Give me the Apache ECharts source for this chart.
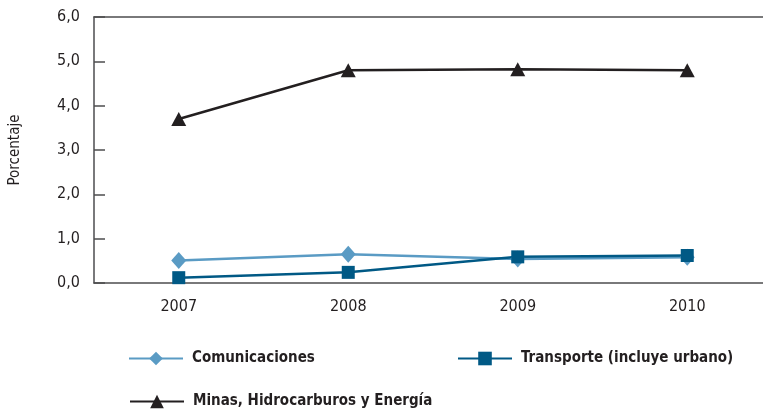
<!DOCTYPE html>
<html>
<head>
<meta charset="utf-8">
<script src="https://cdn.jsdelivr.net/npm/echarts@6/dist/echarts.min.js"></script>
<style>
  html, body { margin: 0; padding: 0; background: #fff; }
  #main { width: 763px; height: 410px; }
</style>
</head>
<body>
<div id="main"></div>
<script>
var years = ['2007', '2008', '2009', '2010']
var comunicaciones = [0.51, 0.65, 0.54, 0.58]
var transporte = [0.12, 0.24, 0.59, 0.62]
var minas = [3.70, 4.80, 4.82, 4.80]

var FONT = '"Liberation Sans Narrow", "DejaVu Sans Condensed", "Roboto", sans-serif'
var TXT = '#231f20'

var myChart = echarts.init(document.getElementById('main'))

function legendAt(name, left, top) {
  return {
    data: [name],
    left: left,
    top: top,
    itemWidth: 54,
    itemHeight: 17,
    itemGap: 0,
    padding: 0,
    textStyle: { fontFamily: FONT, fontSize: 15, fontWeight: 'bold', color: TXT, padding: [0, 0, 0, 4] }
  }
}

var option = {
  animation: false,
  legend: [
    legendAt('Comunicaciones', 128, 351),
    legendAt('Transporte (incluye urbano)', 457, 351),
    legendAt('Minas, Hidrocarburos y Energía', 129, 394)
  ],
  grid: { left: 94, top: 17, right: -9, bottom: 127, outerBoundsMode: 'none', containLabel: false },
  xAxis: [
    {
      type: 'category',
      data: years,
      boundaryGap: true,
      axisLine: { lineStyle: { color: '#4d4d4f', width: 1.5 } },
      axisTick: { inside: true, length: 12, lineStyle: { color: '#4d4d4f', width: 1.5 } },
      axisLabel: { fontFamily: FONT, fontSize: 16, color: TXT, margin: 16 }
    },
    {
      type: 'category',
      data: years,
      position: 'top',
      axisLine: { lineStyle: { color: '#4d4d4f', width: 1.5 } },
      axisTick: { show: false },
      axisLabel: { show: false }
    }
  ],
  yAxis: {
    type: 'value',
    min: 0,
    max: 6,
    interval: 1,
    name: 'Porcentaje',
    nameLocation: 'middle',
    nameGap: 71,
    nameTextStyle: { fontFamily: FONT, fontSize: 15, color: TXT },
    axisLine: { show: true, lineStyle: { color: '#4d4d4f', width: 1.5 } },
    axisTick: { show: true, inside: true, length: 11, lineStyle: { color: '#4d4d4f', width: 1.5 } },
    splitLine: { show: false },
    axisLabel: {
      fontFamily: FONT,
      fontSize: 16,
      color: TXT,
      margin: 14,
      formatter: function (v) { return v.toFixed(1).replace('.', ',') }
    }
  },
  series: [
    {
      name: 'Comunicaciones',
      type: 'line',
      data: comunicaciones,
      symbol: 'diamond',
      symbolSize: [15, 17],
      itemStyle: { color: '#5a9bc4' },
      lineStyle: { color: '#5a9bc4', width: 2.5 }
    },
    {
      name: 'Transporte (incluye urbano)',
      type: 'line',
      data: transporte,
      symbol: 'rect',
      symbolSize: 13,
      itemStyle: { color: '#005985' },
      lineStyle: { color: '#005985', width: 2.5 }
    },
    {
      name: 'Minas, Hidrocarburos y Energía',
      type: 'line',
      data: minas,
      symbol: 'triangle',
      symbolSize: [15, 14],
      itemStyle: { color: '#231f20' },
      lineStyle: { color: '#231f20', width: 2.5 }
    }
  ]
}

myChart.setOption(option)
</script>
</body>
</html>
